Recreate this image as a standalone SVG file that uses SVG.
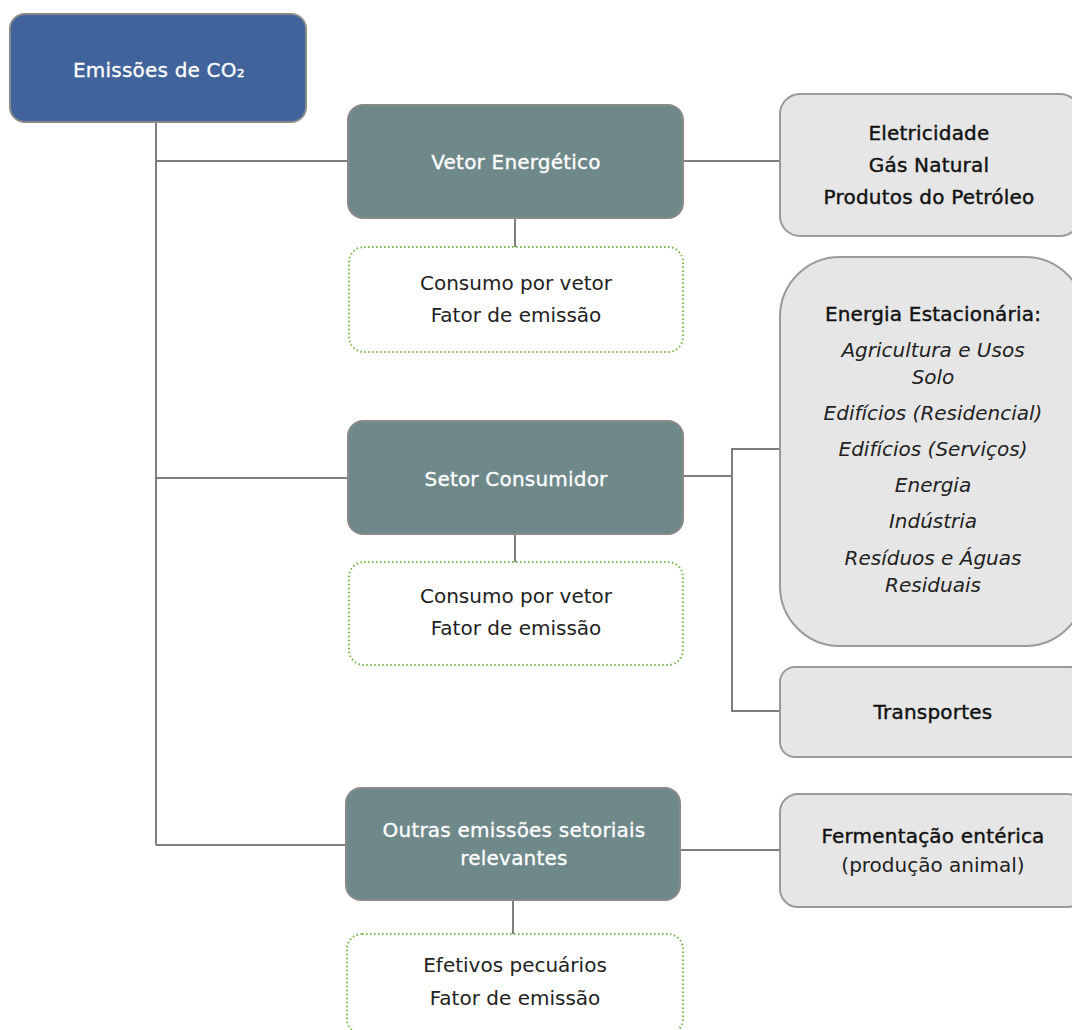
<svg xmlns="http://www.w3.org/2000/svg" width="1072" height="1030" viewBox="0 0 1072 1030">
<style>
text{font-family:"DejaVu Sans","Open Sans","Liberation Sans",sans-serif;font-size:20px;text-anchor:middle;}
.root{fill:#41639b;stroke:#8a8a8a;stroke-width:2;}
.main{fill:#6f898b;stroke:#8a8a8a;stroke-width:2;}
.leaf{fill:#e6e6e6;stroke:#9a9a9a;stroke-width:2;}
.dot{fill:#ffffff;stroke:#77b74a;stroke-width:2;stroke-dasharray:1.5 2.5;}
.w{fill:#ffffff;stroke:#ffffff;stroke-width:0.3;letter-spacing:0.2px;}
.b{fill:#111111;stroke:#111111;stroke-width:0.4;letter-spacing:0.2px;}
.r{fill:#222222;}
.i{fill:#222222;font-style:italic;}
.c{fill:none;stroke:#7f7f7f;stroke-width:2;}
</style>
<g id="connectors">
<path class="c" d="M156 122 V845"/>
<path class="c" d="M156 161 H348"/>
<path class="c" d="M156 478 H348"/>
<path class="c" d="M156 845 H346"/>
<path class="c" d="M683 161 H780"/>
<path class="c" d="M515 218 V247"/>
<path class="c" d="M515 534 V562"/>
<path class="c" d="M513 900 V934"/>
<path class="c" d="M683 476 H732"/>
<path class="c" d="M780 449 H732 V711 H780"/>
<path class="c" d="M680 850 H780"/>
</g>
<g id="root">
<rect class="root" x="10" y="14" width="296" height="108" rx="15"/>
<text class="w" x="159" y="77">Emissões de CO₂</text>
</g>
<g id="vetor">
<rect class="main" x="348" y="105" width="335" height="113" rx="15"/>
<text class="w" x="516" y="169">Vetor Energético</text>
</g>
<g id="vetor-data">
<rect class="dot" x="349" y="247" width="334" height="105" rx="15"/>
<text class="r" x="516" y="290">Consumo por vetor</text>
<text class="r" x="516" y="322">Fator de emissão</text>
</g>
<g id="vetores">
<rect class="leaf" x="780" y="94" width="300" height="142" rx="20"/>
<text class="b" x="929" y="140">Eletricidade</text>
<text class="b" x="929" y="172">Gás Natural</text>
<text class="b" x="929" y="204">Produtos do Petróleo</text>
</g>
<g id="setor">
<rect class="main" x="348" y="421" width="335" height="113" rx="15"/>
<text class="w" x="516" y="486">Setor Consumidor</text>
</g>
<g id="setor-data">
<rect class="dot" x="349" y="562" width="334" height="103" rx="15"/>
<text class="r" x="516" y="603">Consumo por vetor</text>
<text class="r" x="516" y="635">Fator de emissão</text>
</g>
<g id="estacionaria">
<rect class="leaf" x="780" y="257" width="305" height="389" rx="60"/>
<text class="b" x="933" y="321">Energia Estacionária:</text>
<text class="i" x="933" y="357">Agricultura e Usos</text>
<text class="i" x="933" y="384">Solo</text>
<text class="i" x="933" y="420">Edifícios (Residencial)</text>
<text class="i" x="933" y="456">Edifícios (Serviços)</text>
<text class="i" x="933" y="492">Energia</text>
<text class="i" x="933" y="528">Indústria</text>
<text class="i" x="933" y="565">Resíduos e Águas</text>
<text class="i" x="933" y="592">Residuais</text>
</g>
<g id="transportes">
<rect class="leaf" x="780" y="667" width="305" height="90" rx="15"/>
<text class="b" x="933" y="719">Transportes</text>
</g>
<g id="outras">
<rect class="main" x="346" y="788" width="334" height="112" rx="15"/>
<text class="w" x="514" y="837">Outras emissões setoriais</text>
<text class="w" x="514" y="865">relevantes</text>
</g>
<g id="outras-data">
<rect class="dot" x="347" y="934" width="336" height="100" rx="15"/>
<text class="r" x="515" y="972">Efetivos pecuários</text>
<text class="r" x="515" y="1005">Fator de emissão</text>
</g>
<g id="fermentacao">
<rect class="leaf" x="780" y="794" width="305" height="113" rx="18"/>
<text class="b" x="933" y="843">Fermentação entérica</text>
<text class="r" x="933" y="872">(produção animal)</text>
</g>
</svg>
